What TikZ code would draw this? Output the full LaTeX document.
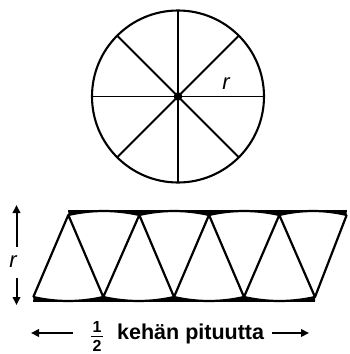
\documentclass[tikz,border=0pt]{standalone}
\usepackage{fontspec}
\setmainfont{Liberation Sans}
\usetikzlibrary{arrows.meta}
\begin{document}
\begin{tikzpicture}[x=1pt,y=-1pt,line join=round,
  spoke/.style={line width=1.8pt},
  edge/.style={line width=2.2pt},
  dimarrow/.style={line width=2pt,-{Triangle[length=8pt,width=7.5pt]}},
  lbl/.style={font=\fontsize{21.5}{23}\selectfont\bfseries,inner sep=0pt},
  rlbl/.style={font=\fontsize{22}{22}\selectfont\itshape,inner sep=0pt},
  digit/.style={font=\fontsize{16}{17}\selectfont\bfseries,inner sep=0pt}]
\useasboundingbox (0,0) rectangle (350,354);
% circle
\coordinate (c) at (178,96.5);
\draw[line width=2.1pt] (c) circle[radius=86];
\foreach \a in {0,45,...,315} \draw[spoke] (c) -- ++(\a:86);
\fill (c) circle[radius=4.3];
\node[rlbl] (rc) at (226,84) {r};
% strip vertices
\coordinate (T0) at (68.3,215);
\coordinate (T1) at (139.3,215);
\coordinate (T2) at (209,215);
\coordinate (T3) at (279.3,215);
\coordinate (T4) at (346.7,215);
\coordinate (B0) at (33.3,297);
\coordinate (B1) at (103.3,297);
\coordinate (B2) at (174,297);
\coordinate (B3) at (244,297);
\coordinate (B4) at (315,297);
% top filled caps
\fill (68.3,211) -- (346.7,211) -- (T4)
  .. controls (324.2,209.67) and (301.8,209.67) .. (T3)
  .. controls (256.1,209.67) and (232.2,209.67) .. (T2)
  .. controls (185.8,209.67) and (162.5,209.67) .. (T1)
  .. controls (115.6,209.67) and (92,209.67) .. (T0) -- cycle;
\draw[edge] (T4)
  .. controls (324.2,209.67) and (301.8,209.67) .. (T3)
  .. controls (256.1,209.67) and (232.2,209.67) .. (T2)
  .. controls (185.8,209.67) and (162.5,209.67) .. (T1)
  .. controls (115.6,209.67) and (92,209.67) .. (T0);
% bottom filled caps
\fill (33.3,301) -- (315,301) -- (B4)
  .. controls (291.3,302.33) and (267.7,302.33) .. (B3)
  .. controls (220.7,302.33) and (197.3,302.33) .. (B2)
  .. controls (150.4,302.33) and (126.9,302.33) .. (B1)
  .. controls (80,302.33) and (56.6,302.33) .. (B0) -- cycle;
\draw[edge] (B4)
  .. controls (291.3,302.33) and (267.7,302.33) .. (B3)
  .. controls (220.7,302.33) and (197.3,302.33) .. (B2)
  .. controls (150.4,302.33) and (126.9,302.33) .. (B1)
  .. controls (80,302.33) and (56.6,302.33) .. (B0);
\draw[edge] (68.3,211) -- (346.7,211);
\draw[edge] (33.3,301) -- (315,301);
% zigzag
\draw[edge] (B0) -- (T0) -- (B1) -- (T1) -- (B2) -- (T2) -- (B3) -- (T3) -- (B4) -- (T4);
% left dimension
\node[rlbl] (rl) at (13,262) {r};
\coordinate (vt) at (16.5,205);
\coordinate (vb) at (16.5,305);
\draw[dimarrow] (16.5,247) -- (vt);
\draw[dimarrow] (16.5,278) -- (vb);
% bottom label
\node[digit] (one) at (97,326.5) {1};
\node[digit] (two) at (97,346) {2};
\draw[line width=1.6pt] (91,336.5) -- (103,336.5);
\node[lbl,anchor=base west] (txt) at (117,339.5) {kehän pituutta};
\coordinate (la) at (31,333);
\coordinate (ra) at (309,333);
\draw[dimarrow] (73,333) -- (la);
\draw[dimarrow] (272,333) -- (ra);
\end{tikzpicture}
\end{document}
